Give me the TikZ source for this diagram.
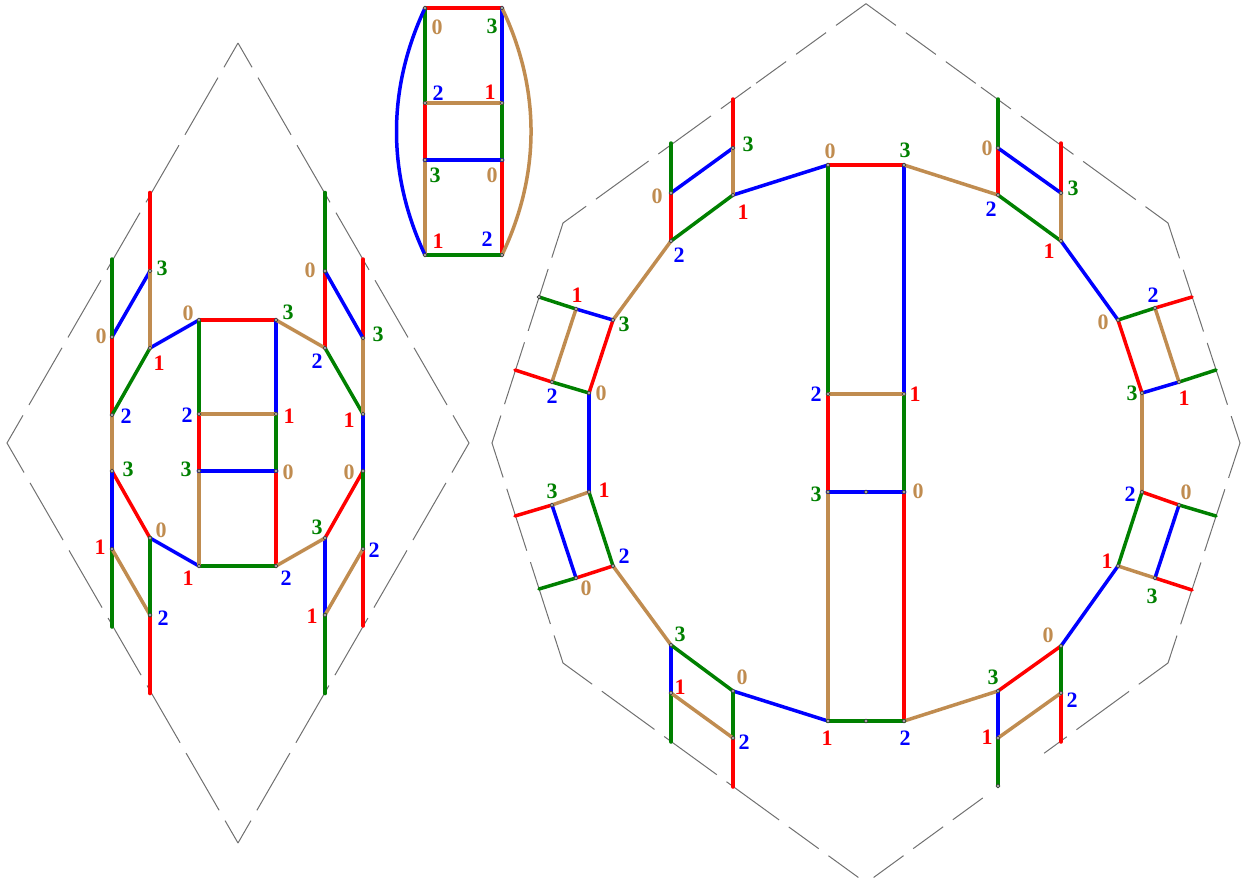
\documentclass[tikz,border=0pt]{standalone}
\usepackage{fontspec}
\setmainfont{Liberation Serif}

\definecolor{redEdge}{HTML}{FF0000}
\definecolor{blueEdge}{HTML}{0000FF}
\definecolor{greenEdge}{HTML}{008000}
\definecolor{tanEdge}{HTML}{C08C50}
\definecolor{outlineGray}{HTML}{707070}

\tikzset{
    edge/.style={line width=3.5pt, line cap=round},
    heavy/.style={line width=4.7pt, line cap=round},
    outline/.style={outlineGray, line width=1pt},
    diamondDash/.style={dash pattern=on 66pt off 12pt, dash phase=38pt},
    octaRight/.style={dash pattern=on 37pt off 12.3pt on 37pt off 12.3pt on 37pt off 6.5pt on 37pt off 12.3pt
        on 65pt off 12pt on 65pt off 12pt on 65pt off 12pt on 65pt off 12pt on 65pt off 12pt
        on 65pt off 12pt on 65pt off 12pt on 65pt off 12pt on 65pt off 12pt on 65pt off 12pt
        on 28pt off 76pt on 37pt off 12pt on 37pt off 12pt on 37pt off 30pt},
    octaLeft/.style={dash pattern=on 37pt off 12.3pt on 37pt off 12.3pt on 37pt off 6.5pt on 37pt off 12.3pt
        on 65pt off 12pt on 65pt off 12pt on 65pt off 12pt on 65pt off 12pt on 65pt off 12pt
        on 65pt off 12pt on 65pt off 12pt on 65pt off 12pt on 65pt off 12pt on 65pt off 12pt
        on 65pt off 12pt on 65pt off 12pt on 37pt off 12pt on 37pt off 30pt},
    vertexDot/.style={fill=lightgray, draw=darkgray, line width=0.7pt},
    digit/.style={font=\fontsize{22}{22}\selectfont\bfseries, inner sep=0pt},
    zeroDigit/.style={digit, text=tanEdge},
    oneDigit/.style={digit, text=redEdge},
    twoDigit/.style={digit, text=blueEdge},
    threeDigit/.style={digit, text=greenEdge}
}

\begin{document}
\begin{tikzpicture}[x=1pt, y=-1pt]
    \useasboundingbox (0,0) rectangle (1248,884);

    % Define vertices of the left figure
    \foreach \n/\x/\y in {La/199/320, Lb/276/320, Lc/199/414, Ld/276/414, Le/199/471, Lf/276/471, Lg/199/566, Lh/276/566,
        Li/112/259, Lj/112/337, Lk/112/415, Ll/150/193, Lm/150/271, Ln/150/348,
        Lo/325/193, Lp/325/271, Lq/325/348, Lr/363/259, Ls/363/338, Lt/363/414,
        Lu/112/471, Lv/112/549, Lw/112/627, Lx/150/538, Ly/150/615, Lz/150/693,
        LA/363/471, LB/363/549, LC/363/626, LD/325/538, LE/325/615, LF/325/693}
        \coordinate (\n) at (\x,\y);

    % Define vertices of the top figure
    \foreach \n/\x/\y in {Ta/425/8, Tb/502/8, Tc/425/103, Td/502/103, Te/425/160, Tf/502/160, Tg/425/255, Th/502/255}
        \coordinate (\n) at (\x,\y);

    % Define vertices of the big figure
    \foreach \n/\x/\y in {Ba/828/165, Bb/904/165, Bc/828/394, Bd/904/394, Be/828/492, Bf/904/492, Bg/828/721, Bh/904/721,
        Bi/671/143, Bj/671/193, Bk/671/241, Bl/733/99, Bm/733/148, Bn/733/195,
        Bo/998/99, Bp/998/148, Bq/998/195, Br/1061/143, Bs/1061/193, Bt/1061/241,
        Bu/613/320, Bv/576/309, Bw/539/297, Bx/589/393, By/552/382, Bz/515/370,
        BA/1118/320, BB/1155/308, BC/1192/297, BD/1142/393, BE/1179/382, BF/1216/370,
        BG/589/492, BH/552/505, BI/515/516, BJ/613/566, BK/576/578, BL/539/589,
        BM/1142/492, BN/1179/505, BO/1216/516, BP/1118/566, BQ/1155/578, BR/1192/590,
        BS/671/645, BT/671/693, BU/671/742, BV/733/691, BW/733/738, BX/733/787,
        BY/1061/646, BZ/1061/693, Ca/1061/742, Cb/998/691, Cc/998/738, Cd/998/786,
        Ce/866/492, Cf/866/721}
        \coordinate (\n) at (\x,\y);

    % Define corners of the dashed outlines
    \foreach \n/\x/\y in {dTop/238/43, dRight/469/443, dBottom/238/843, dLeft/7/443,
        oTop/866/3.7, oUpRight/1168/223, oRight/1240/443, oLowRight/1168/663, oBottom/866/883,
        oUpLeft/563/223, oLeft/492/443, oLowLeft/563/663}
        \coordinate (\n) at (\x,\y);

    % Draw dashed outlines
    \draw[outline, diamondDash] (dTop) -- (dRight) -- (dBottom);
    \draw[outline, diamondDash] (dTop) -- (dLeft) -- (dBottom);
    \draw[outline, octaRight] (oTop) -- (oUpRight) -- (oRight) -- (oLowRight) -- (oBottom);
    \draw[outline, octaLeft] (oTop) -- (oUpLeft) -- (oLeft) -- (oLowLeft) -- (oBottom);

    % Draw edges of the left figure
    \foreach \a/\b in {La/Lb, Lc/Le, Lf/Lh, Lj/Lk, Lp/Lq, Lr/Ls, Lu/Lx, LA/LD, LB/LC}
        \draw[edge, redEdge] (\a) -- (\b);
    \foreach \a/\b in {Lb/Ld, La/Ln, Lj/Lm, Lp/Ls, Lt/LA, Lu/Lv, Lx/Lg, LD/LE}
        \draw[edge, blueEdge] (\a) -- (\b);
    \foreach \a/\b in {La/Lc, Ld/Lf, Lg/Lh, Li/Lj, Ln/Lk, Lq/Lt, Lv/Lw, LA/LB}
        \draw[edge, greenEdge] (\a) -- (\b);
    \foreach \a/\b in {Lc/Ld, Le/Lg, Lb/Lq, Ls/Lt, Lk/Lu, Lv/Ly, LD/Lh, LB/LE}
        \draw[edge, tanEdge] (\a) -- (\b);
    \draw[heavy, redEdge] (Ll) -- (Lm);
    \draw[heavy, redEdge] (Ly) -- (Lz);
    \draw[heavy, blueEdge] (Le) -- (Lf);
    \draw[heavy, greenEdge] (Lo) -- (Lp);
    \draw[heavy, greenEdge] (Lx) -- (Ly);
    \draw[heavy, greenEdge] (LE) -- (LF);
    \draw[heavy, tanEdge] (Lm) -- (Ln);

    % Draw edges of the top figure
    \foreach \a/\b in {Ta/Tb, Tc/Te, Tf/Th}
        \draw[edge, redEdge] (\a) -- (\b);
    \foreach \a/\b in {Tb/Td}
        \draw[edge, blueEdge] (\a) -- (\b);
    \foreach \a/\b in {Ta/Tc, Td/Tf, Tg/Th}
        \draw[edge, greenEdge] (\a) -- (\b);
    \foreach \a/\b in {Tc/Td, Te/Tg}
        \draw[edge, tanEdge] (\a) -- (\b);
    \draw[heavy, blueEdge] (Te) -- (Tf);
    \draw[edge, blueEdge] (Ta) .. controls (387,89) and (387,174) .. (Tg);
    \draw[edge, tanEdge] (Tb) .. controls (540.7,89) and (540.7,174) .. (Th);

    % Draw edges of the big figure
    \foreach \a/\b in {Ba/Bb, Bc/Be, Bf/Bh, Bk/Bj, Bl/Bm, Bu/Bx, By/Bz, Bq/Bp, Br/Bs, BA/BD, BB/BC, BH/BI, BJ/BK, BM/BN, BQ/BR, BW/BX, BY/Cb, BZ/Ca}
        \draw[edge, redEdge] (\a) -- (\b);
    \foreach \a/\b in {Bb/Bd, Bn/Ba, Bj/Bm, Bx/BG, Bu/Bv, Bp/Bs, Bt/BA, BD/BE, BH/BK, BN/BQ, BS/BT, BV/Bg, BP/BY, Cb/Cc}
        \draw[edge, blueEdge] (\a) -- (\b);
    \foreach \a/\b in {Ba/Bc, Bd/Bf, Bk/Bn, Bi/Bj, Bv/Bw, Bx/By, Bo/Bp, Bq/Bt, BA/BB, BE/BF, BG/BJ, BK/BL, BN/BO, BP/BM, BS/BV, BT/BU, BV/BW, BY/BZ, Cc/Cd}
        \draw[edge, greenEdge] (\a) -- (\b);
    \foreach \a/\b in {Bc/Bd, Be/Bg, Bb/Bq, Bk/Bu, Bn/Bm, Bt/Bs, Bv/By, BB/BE, BD/BM, BG/BH, BJ/BS, BT/BW, Bh/Cb, Cc/BZ, BP/BQ}
        \draw[edge, tanEdge] (\a) -- (\b);
    \draw[heavy, blueEdge] (Be) -- (Bf);
    \draw[heavy, greenEdge] (Bg) -- (Bh);

    % Draw vertex dots
    \foreach \v in {La,Lb,Lc,Ld,Le,Lf,Lg,Lh,Lj,Lk,Lm,Ln,Lp,Lq,Ls,Lt,Lu,Lv,Lx,Ly,LA,LB,LD,LE,
        Ta,Tb,Tc,Td,Te,Tf,Tg,Th,
        Ba,Bb,Bc,Bd,Be,Bf,Bg,Bh,Bj,Bk,Bm,Bn,Bp,Bq,Bs,Bt,Bu,Bv,Bw,Bx,By,BA,BB,BD,BE,
        BG,BH,BJ,BK,BM,BN,BP,BQ,BS,BT,BV,BW,BY,BZ,Cb,Cc,Cd,Ce,Cf}
        \filldraw[vertexDot] (\v) circle (1.8);

    % Label the vertices, one loop for each digit
    \foreach \x/\y [count=\i] in {101/336, 188/313, 161/530, 288/472, 349/472, 310/270,
        437/27, 492/175,
        830/151, 918/491, 657/196, 601/393, 987/148, 1103/322, 586/588, 742/677, 1186/492, 1048/635}
        \node[zeroDigit] (zero\i) at (\x,\y) {0};
    \foreach \x/\y [count=\i] in {159/363, 289/416, 349/420, 100/547, 188/578, 312/616,
        490/92, 438/241,
        915/394, 827/738, 743/212, 577/295, 1049/251, 1184/398, 604/490, 680/687, 1107/561, 987/737}
        \node[oneDigit] (one\i) at (\x,\y) {1};
    \foreach \x/\y [count=\i] in {126/416, 187/415, 317/361, 163/618, 374/550, 286/578,
        438/93, 487/239,
        816/394, 905/738, 679/255, 552/396, 991/209, 1153/295, 624/556, 744/742, 1130/494, 1072/700}
        \node[twoDigit] (two\i) at (\x,\y) {2};
    \foreach \x/\y [count=\i] in {162/268, 288/312, 378/334, 128/469, 186/469, 317/527,
        492/26, 435/175,
        905/150, 816/494, 748/144, 624/324, 1073/188, 1132/393, 552/491, 680/634, 1152/596, 993/677}
        \node[threeDigit] (three\i) at (\x,\y) {3};

\end{tikzpicture}
\end{document}
